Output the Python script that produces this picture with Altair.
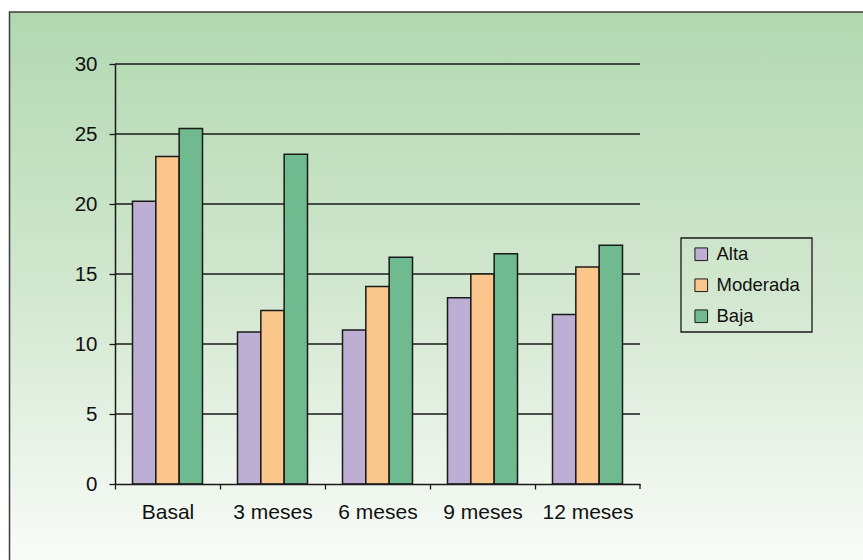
import altair as alt
import pandas as pd

# Time points and groups
categories = ["Basal", "3 meses", "6 meses", "9 meses", "12 meses"]
series = ["Alta", "Moderada", "Baja"]

# Values per group
alta = [20.2, 10.85, 11.0, 13.3, 12.1]
moderada = [23.4, 12.4, 14.1, 15.0, 15.5]
baja = [25.4, 23.55, 16.2, 16.45, 17.05]

colors = ["#bdaed4", "#fbc68b", "#6fba8e"]
grid_values = [5, 10, 15, 20, 25, 30]

W, H = 525, 420
STEP = W / len(categories)
FONT = "Liberation Sans"

rows = []
for name, vals in zip(series, [alta, moderada, baja]):
    for c, v in zip(categories, vals):
        rows.append({"periodo": c, "grupo": name, "valor": v})
df = pd.DataFrame(rows)

y_scale = alt.Scale(domain=[0, 30], nice=False)
y_axis = alt.Axis(
    title=None, values=[0, 5, 10, 15, 20, 25, 30], grid=False,
    tickSize=6, tickColor="#1a1a1a", tickWidth=1.3,
    domainColor="#1a1a1a", domainWidth=1.5,
    labelFontSize=20.5, labelFont=FONT, labelColor="#111", labelPadding=12,
    zindex=1,
)

# Gradient panel behind everything
backdrop = alt.Chart(pd.DataFrame({"k": [0]})).mark_rect(
    fill=alt.Gradient(
        gradient="linear", x1=0, x2=0, y1=0, y2=1,
        stops=[
            alt.GradientStop(color="#b2d8b1", offset=0),
            alt.GradientStop(color="#d2e7cf", offset=0.5),
            alt.GradientStop(color="#f9fcf9", offset=1),
        ],
    ),
    stroke="#3d3d3d", strokeWidth=1.5,
).encode(
    x=alt.value(-105.5), x2=alt.value(W + 240),
    y=alt.value(-52), y2=alt.value(H + 80),
)

grid = alt.Chart(pd.DataFrame({"valor": grid_values})).mark_rule(
    color="#1a1a1a", strokeWidth=1.4
).encode(y=alt.Y("valor:Q", scale=y_scale, axis=y_axis))

bars = alt.Chart(df).mark_bar(stroke="#1a1a1a", strokeWidth=1.5).encode(
    x=alt.X(
        "periodo:N", sort=categories,
        scale=alt.Scale(paddingInner=1 / 3, paddingOuter=1 / 6),
        axis=alt.Axis(
            title=None, labelAngle=0, grid=False,
            tickOffset=-STEP / 2, labelOffset=STEP / 2,
            tickSize=5, tickColor="#1a1a1a", tickWidth=1.3,
            domainColor="#1a1a1a", domainWidth=1.5,
            labelFontSize=21, labelFont=FONT, labelColor="#111",
            labelPadding=12.5, zindex=1,
        ),
    ),
    xOffset=alt.XOffset("grupo:N", sort=series, scale=alt.Scale(paddingInner=0)),
    y=alt.Y("valor:Q", scale=y_scale, axis=y_axis),
    color=alt.Color(
        "grupo:N", sort=series,
        scale=alt.Scale(domain=series, range=colors),
        legend=alt.Legend(
            title=None, orient="none", legendX=577, legendY=181,
            symbolType="square", symbolSize=160,
            symbolStrokeColor="#1a1a1a", symbolStrokeWidth=1,
            labelFontSize=18.5, labelFont=FONT, labelColor="#111",
            labelOffset=6, rowPadding=12, padding=0,
        ),
    ),
)

# Closing tick at the right end of the category axis
end_tick = alt.Chart(pd.DataFrame({"k": [0]})).mark_rule(
    color="#1a1a1a", strokeWidth=1.3
).encode(x=alt.value(W), y=alt.value(H), y2=alt.value(H + 5))

# Frame around the legend
legend_box = alt.Chart(pd.DataFrame({"k": [0]})).mark_rect(
    fill=None, stroke="#1a1a1a", strokeWidth=1.3
).encode(x=alt.value(566), x2=alt.value(697), y=alt.value(174), y2=alt.value(268))

chart = alt.layer(backdrop, grid, bars, end_tick, legend_box).properties(
    width=W, height=H,
    autosize=alt.AutoSizeParams(type="none"),
    padding={"left": 115, "top": 64, "right": 223, "bottom": 76},
).configure(background="white").configure_view(stroke="#1a1a1a", strokeWidth=1.5)

chart.save("out.html", embed_options={"renderer": "svg", "actions": False})
